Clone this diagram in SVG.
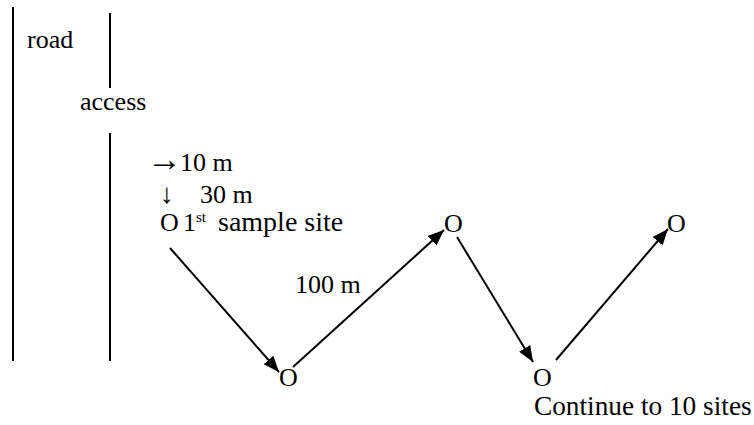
<svg xmlns="http://www.w3.org/2000/svg" width="754" height="425" viewBox="0 0 754 425">
  <defs>
    <style>
      .line { stroke: #000; stroke-width: 2; fill: none; }
    </style>
    <marker id="arrow" markerUnits="userSpaceOnUse" markerWidth="16" markerHeight="13" refX="16" refY="6.5" orient="auto">
      <path d="M0,0 L16,6.5 L0,13 z" fill="#000"/>
    </marker>
  </defs>
  <rect width="754" height="425" fill="#fff"/>

  <g font-family="Liberation Serif" font-size="26" fill="#000">
    <g id="road">
      <line class="line" x1="13" y1="7" x2="13" y2="361"/>
      <line class="line" x1="110" y1="13" x2="110" y2="88"/>
      <line class="line" x1="110" y1="133" x2="110" y2="361"/>
      <text x="27" y="48">road</text>
      <text x="80" y="110">access</text>
    </g>

    <g id="directions">
      <text x="147" y="171" font-size="35">→</text>
      <text x="180" y="171">10 m</text>
      <text x="160" y="203" font-size="28">↓</text>
      <text x="200" y="203">30 m</text>
    </g>

    <g id="site1">
      <text x="160" y="231">O</text>
      <text x="183" y="231">1</text>
      <text x="196" y="222" font-size="15">st</text>
      <text x="218" y="231" font-size="28">sample site</text>
    </g>
    <g id="site2"><text x="279" y="386">O</text></g>
    <g id="site3"><text x="444" y="232">O</text></g>
    <g id="site4"><text x="533" y="386">O</text></g>
    <g id="site5"><text x="667" y="232">O</text></g>

    <g id="labels">
      <text x="295" y="293">100 m</text>
      <text x="534" y="415" font-size="27.3">Continue to 10 sites</text>
    </g>
  </g>

  <g id="connectors">
    <line class="line" x1="170" y1="248" x2="279" y2="372" marker-end="url(#arrow)"/>
    <line class="line" x1="293" y1="367" x2="444" y2="230" marker-end="url(#arrow)"/>
    <line class="line" x1="457" y1="237" x2="533" y2="362" marker-end="url(#arrow)"/>
    <line class="line" x1="556" y1="360" x2="668" y2="229" marker-end="url(#arrow)"/>
  </g>
</svg>
